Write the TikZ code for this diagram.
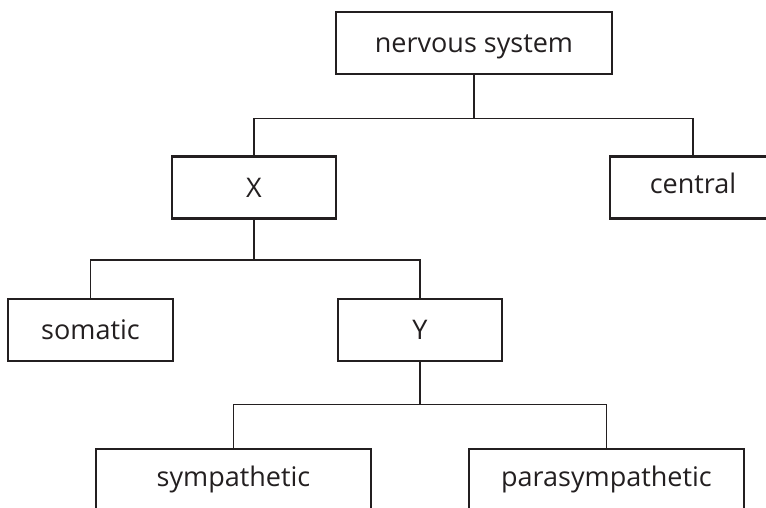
\documentclass[tikz,border=0pt]{standalone}
\usepackage{fontspec}
\setmainfont{Open Sans}
\definecolor{ink}{HTML}{231F20}
\tikzset{
	box/.style = {draw = ink, line width = 2.8pt, minimum height = 62pt, inner sep = 0pt,
		text = ink, font = \fontsize{27}{31}\selectfont, text height = 19pt, text depth = 0pt},
	low/.style = {text depth = 7pt},
	link/.style = {draw = ink, line width = 1.4pt}
}
\begin{document}
\begin{tikzpicture}[x = 1pt, y = 1pt]
	%	frame
	\useasboundingbox (0, 0) rectangle (766, -507);
	\clip (0, 0) rectangle (766, -507);
	
	%	boxes
	\node[box, minimum width = 276pt] (ns) at (474, -43) {nervous system};
	\node[box, minimum width = 164pt] (X) at (254, -187.5) {X};
	\node[box, low, minimum width = 166pt] (central) at (693, -187.5) {central};
	\node[box, minimum width = 165pt] (somatic) at (90.5, -330) {somatic};
	\node[box, minimum width = 164pt] (Y) at (420, -330) {Y};
	\node[box, low, minimum width = 275pt] (symp) at (233.5, -480) {sympathetic};
	\node[box, low, minimum width = 275pt] (para) at (606.5, -480) {parasympathetic};
	
	%	links
	\draw[link] (ns.south) -- ++(0, -43) -| (X.north);
	\draw[link] (ns.south) -- ++(0, -43) -| (central.north);
	\draw[link] (X.south) -- ++(0, -40) -| (somatic.north);
	\draw[link] (X.south) -- ++(0, -40) -| (Y.north);
	\draw[link] (Y.south) -- ++(0, -42) -| (symp.north);
	\draw[link] (Y.south) -- ++(0, -42) -| (para.north);
\end{tikzpicture}
\end{document}
